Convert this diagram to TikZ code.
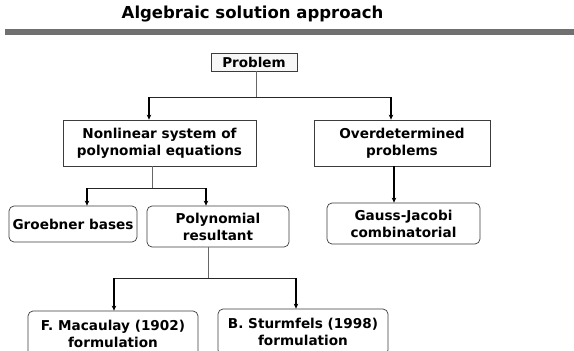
\documentclass[tikz,border=0pt]{standalone}
\usepackage{fontspec}
\setmainfont{DejaVu Sans}
\usepackage{tikz}
\usetikzlibrary{arrows.meta, positioning, calc}
\definecolor{bargray}{RGB}{112,112,112}
\definecolor{framegray}{RGB}{60,60,60}
\tikzset{
  rootbox/.style={
    rectangle, draw=framegray, fill=black!3, line width=0.8pt,
    minimum width=86pt, minimum height=18pt, inner sep=0pt,
    font=\fontsize{13.5}{17}\selectfont\bfseries
  },
  squarebox/.style={
    rectangle, draw=framegray, fill=white, line width=0.7pt,
    align=center, inner sep=0pt,
    font=\fontsize{13.6}{17}\selectfont\bfseries
  },
  roundbox/.style={
    rectangle, rounded corners=5pt, draw=framegray, fill=white, line width=0.7pt,
    align=center, inner sep=0pt,
    font=\fontsize{13.6}{17}\selectfont\bfseries
  },
  stem/.style={line width=0.7pt, color=black!60},
  rail/.style={line width=0.8pt, color=black!85},
  arrow/.style={line width=1.3pt, -{Stealth[length=5pt,width=4.5pt]}},
}
\begin{document}
\begin{tikzpicture}[x=1pt, y=-1pt]
  \useasboundingbox (0,0) rectangle (574,351);
  % heading
  \node (title) at (252.5,14) {\fontsize{16.5}{18}\selectfont\bfseries Algebraic solution approach};
  \fill[bargray] (5,29) rectangle (574,35);

  % boxes
  \node (problem)  [rootbox]                                                  at (254,62)    {Problem};
  \node (nonlin)   [squarebox, minimum width=193pt, minimum height=46pt]      at (159.5,143) {Nonlinear system of\\polynomial equations};
  \node (overdet)  [squarebox, minimum width=176pt, minimum height=46pt]      at (402,143)   {Overdetermined\\problems};
  \node (groebner) [roundbox,  minimum width=128pt, minimum height=36pt]      at (73,224)    {Groebner bases};
  \node (result)   [roundbox,  minimum width=142pt, minimum height=41pt]      at (218,226.5) {Polynomial\\resultant};
  \node (gauss)    [roundbox,  minimum width=153pt, minimum height=41pt]      at (403.5,223.5) {Gauss-Jacobi\\combinatorial};
  \node (macaulay) [roundbox,  minimum width=170pt, minimum height=46pt]      at (113,334)   {F. Macaulay (1902)\\formulation};
  \node (sturm)    [roundbox,  minimum width=170pt, minimum height=46pt]      at (303,332)   {B. Sturmfels (1998)\\formulation};

  % junctions
  \coordinate (jtop) at (256,97);
  \coordinate (jmid) at (152,188);
  \coordinate (jlow) at (208,278);

  % connectors
  \draw[stem]  (problem.south -| jtop) -- (jtop);
  \draw[rail]  (149,97) -- (391,97);
  \draw[arrow] (jtop -| 149,0) -- (nonlin.north -| 149,0);
  \draw[arrow] (jtop -| 391,0) -- (overdet.north -| 391,0);
  \draw[arrow] (overdet.south -| 394,0) -- (gauss.north -| 394,0);

  \draw[stem]  (nonlin.south -| jmid) -- (jmid);
  \draw[rail]  (87,188) -- (206,188);
  \draw[arrow] (jmid -| 87,0) -- (groebner.north -| 87,0);
  \draw[arrow] (jmid -| 206,0) -- (result.north -| 206,0);

  \draw[stem]  (result.south -| jlow) -- (jlow);
  \draw[rail]  (114,278) -- (296,278);
  \draw[arrow] (jlow -| 114,0) -- (macaulay.north -| 114,0);
  \draw[arrow] (jlow -| 296,0) -- (sturm.north -| 296,0);
\end{tikzpicture}
\end{document}
